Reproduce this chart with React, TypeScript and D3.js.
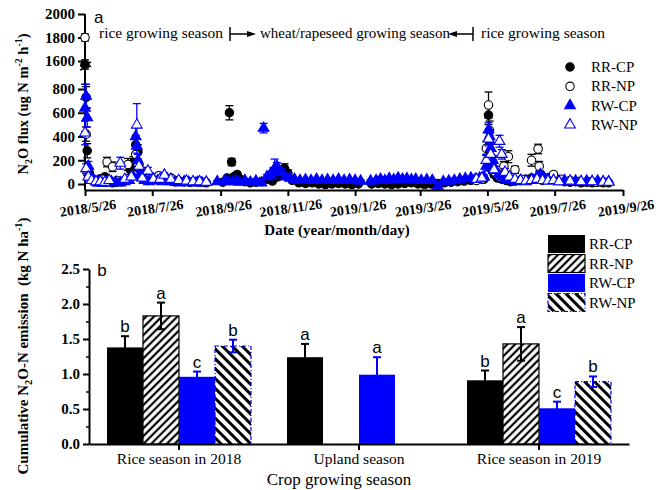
import React, { useEffect, useRef } from "react";
import * as d3 from "d3";

const dateTicks = ["2018/5/26", "2018/7/26", "2018/9/26", "2018/11/26", "2019/1/26", "2019/3/26", "2019/5/26", "2019/7/26", "2019/9/26"];
const fluxTicksLow = [0, 200, 400, 600, 800];
const fluxTicksHigh = [1600, 1800, 2000];

// [days after 2018/5/26, N2O flux, SE]
const rrCP = [
  [0, 1570, 40], [1, 730, 90], [2, 280, 60], [4, 90, 30], [7, 40, 15], [10, 20, 10], [14, 45, 15], [18, 60, 20], [21, 30, 10], [25, 10, 8],
  [29, 15, 8], [33, 20, 10], [37, 30, 10], [41, 120, 40], [44, 180, 50], [46, 330, 80], [48, 270, 60], [50, 120, 40], [53, 40, 15], [57, 30, 10],
  [61, 40, 15], [65, 35, 10], [69, 50, 20], [73, 40, 10], [77, 30, 10], [81, 20, 8], [85, 25, 8], [90, 20, 8], [95, 15, 8], [100, 20, 8],
  [105, 15, 8], [110, 10, 8],
  [125, 15, 8], [129, 50, 15], [131, 600, 60], [133, 185, 30], [135, 60, 20], [138, 80, 20], [141, 40, 15], [145, 20, 10], [150, 10, 8], [155, 15, 8],
  [160, 20, 10], [165, 40, 15], [170, 25, 10], [175, 60, 20], [178, 100, 30], [181, 130, 40], [184, 90, 30], [188, 30, 10], [194, 10, 8], [200, 5, 8],
  [206, 10, 8], [212, 0, 8], [218, -5, 8], [224, 0, 8], [230, 5, 8], [236, 0, 8], [242, -5, 8], [248, 0, 8], [260, 0, 8], [266, 5, 8],
  [272, 0, 8], [278, -5, 8], [284, 0, 8], [290, 5, 8], [296, 10, 8], [302, 0, 8], [308, -5, 8], [314, 0, 8], [320, 5, 8], [326, 10, 8],
  [332, 15, 8], [338, 20, 8], [344, 25, 8], [350, 30, 10],
  [352, 40, 10], [355, 30, 10], [358, 50, 15], [362, 40, 10], [365, 200, 50], [366, 580, 80], [367, 350, 60], [369, 120, 30], [371, 80, 20], [374, 50, 15],
  [378, 40, 10], [382, 30, 10], [386, 20, 8], [390, 25, 8], [395, 30, 10], [400, 40, 10], [405, 50, 15], [410, 40, 10], [415, 30, 10], [420, 40, 10],
  [425, 70, 15], [430, 30, 10], [435, 20, 8], [440, 15, 8], [445, 20, 8], [450, 10, 8], [455, 15, 8], [460, 10, 8], [465, 15, 8], [470, 10, 8], [475, 10, 8],
];

const rrNP = [
  [0, 1800, 30], [1, 420, 60], [2, 100, 30], [4, 40, 15], [8, 20, 10], [12, 30, 10], [16, 40, 15], [20, 185, 40], [25, 145, 40], [29, 30, 10],
  [33, 20, 10], [39, 165, 50], [44, 80, 25], [46, 250, 80], [48, 150, 40], [52, 60, 20], [57, 30, 10], [62, 50, 15], [67, 70, 20], [72, 40, 10],
  [78, 50, 15], [84, 30, 10], [90, 20, 8], [96, 15, 8], [102, 20, 8], [108, 15, 8],
  [355, 30, 10], [360, 40, 10], [364, 300, 60], [366, 665, 110], [367, 450, 80], [369, 200, 40], [372, 100, 30], [376, 60, 20], [380, 150, 40], [384, 230, 50],
  [390, 120, 30], [396, 40, 15], [402, 30, 10], [405, 200, 50], [411, 295, 40], [412, 150, 40], [418, 50, 15], [425, 80, 20], [432, 40, 10], [440, 30, 10],
  [448, 20, 8], [456, 20, 8], [464, 15, 8], [472, 15, 8],
];

const rwCP = [
  [0, 640, 200], [1, 740, 100], [2, 560, 80], [3, 150, 40], [5, 60, 20], [8, 30, 10], [12, 10, 8], [16, 5, 8], [20, 10, 8], [24, 20, 10],
  [28, 15, 8], [32, 10, 8], [36, 20, 10], [40, 30, 10], [44, 60, 20], [46, 400, 80], [47, 320, 60], [48, 200, 50], [50, 80, 20], [54, 30, 10],
  [58, 20, 8], [62, 40, 15], [66, 30, 10], [70, 20, 8], [74, 30, 10], [78, 20, 8], [82, 15, 8], [86, 10, 8], [90, 20, 8], [94, 15, 8],
  [98, 10, 8], [102, 15, 8], [106, 10, 8], [110, 15, 8], [120, 20, 10],
  [127, 30, 10], [130, 20, 8], [134, 20, 8], [137, 25, 10], [140, 15, 8], [145, 30, 10], [150, 15, 8], [155, 25, 10], [160, 10, 8], [162, 470, 40],
  [165, 60, 20], [168, 80, 25], [171, 110, 30], [172, 130, 80], [174, 150, 30], [178, 100, 30], [182, 60, 20], [186, 50, 15], [190, 40, 10], [195, 30, 10],
  [200, 35, 10], [205, 30, 10], [210, 40, 10], [215, 30, 10], [220, 35, 10], [225, 30, 10], [230, 40, 10], [235, 30, 10], [240, 35, 10], [245, 30, 10],
  [250, 25, 10], [259, 25, 10], [264, 30, 10], [268, 40, 10], [272, 30, 10], [276, 45, 10], [280, 35, 10], [284, 50, 10], [288, 40, 10], [292, 45, 10],
  [296, 35, 10], [300, 40, 10], [305, 30, 10], [310, 35, 10], [315, 30, 10], [320, -20, 10], [325, 20, 10], [330, 25, 10], [335, 30, 10], [340, 40, 10],
  [345, 45, 10], [350, 50, 10],
  [354, 40, 10], [358, 50, 15], [362, 60, 15], [364, 150, 40], [366, 455, 60], [367, 400, 60], [368, 300, 50], [370, 200, 40], [372, 120, 30], [375, 80, 20],
  [378, 60, 15], [382, 40, 10], [386, 30, 10], [390, 20, 8], [395, 30, 10], [400, 20, 8], [405, 40, 10], [410, 60, 15], [413, 80, 20], [416, 60, 15],
  [420, 40, 10], [425, 30, 10], [430, 20, 8], [435, 30, 10], [440, 20, 8], [445, 25, 8], [450, 20, 8], [455, 25, 8], [460, 20, 8], [465, 25, 8],
  [470, 20, 8], [475, 20, 8],
];

const rwNP = [
  [0, 430, 100], [1, 130, 40], [3, 60, 20], [6, 30, 10], [10, 20, 8], [14, 20, 8], [18, 15, 8], [22, 30, 10], [32, 175, 50], [36, 40, 15],
  [42, 60, 20], [47, 497, 180], [49, 150, 40], [52, 50, 15], [57, 110, 30], [62, 40, 15], [68, 40, 10], [72, 75, 20], [78, 40, 10], [85, 30, 10],
  [92, 25, 8], [98, 20, 8], [104, 20, 8], [110, 15, 8],
  [355, 40, 10], [360, 50, 15], [364, 200, 50], [366, 380, 60], [368, 250, 50], [371, 120, 30], [376, 360, 50], [378, 250, 40], [381, 100, 30], [385, 60, 15],
  [390, 40, 10], [395, 30, 10], [400, 25, 8], [405, 30, 10], [410, 40, 10], [415, 30, 10], [420, 25, 8], [425, 30, 10], [430, 20, 8], [440, 25, 8],
  [450, 20, 8], [460, 20, 8], [470, 15, 8], [475, 15, 8],
];

// cumulative emission (kg N ha-1) per season
const seasons = ["Rice season in 2018", "Upland season", "Rice season in 2019"];
const treatments = ["RR-CP", "RR-NP", "RW-CP", "RW-NP"];
const rrCPMean = [1.38, 1.24, 0.91];
const rrCPSe = [0.16, 0.19, 0.14];
const rrCPSig = ["b", "a", "b"];
const rrNPMean = [1.83, null, 1.43];
const rrNPSe = [0.19, null, 0.24];
const rrNPSig = ["a", "", "a"];
const rwCPMean = [0.96, 0.99, 0.51];
const rwCPSe = [0.075, 0.25, 0.095];
const rwCPSig = ["c", "a", "c"];
const rwNPMean = [1.40, null, 0.89];
const rwNPSe = [0.09, null, 0.075];
const rwNPSig = ["b", "", "b"];
const barTicks = [0, 0.5, 1, 1.5, 2, 2.5];
const barMinor = [0.25, 0.75, 1.25, 1.75, 2.25];

const BLUE = "#0000ff";
const serif = "'Liberation Serif', 'Times New Roman', serif";
const sans = "'Liberation Sans', Arial, sans-serif";

function richLabel(sel: any, parts: any[], size: number) {
  let shift = 0;
  parts.forEach(([t, k]) => {
    const target = k === "sub" ? 4 : k === "sup" ? -6 : 0;
    sel.append("tspan").attr("dy", target - shift).attr("font-size", k ? size * 0.68 : size).text(t);
    shift = target;
  });
}

function drawFlux(svg: any) {
  const parse = d3.timeParse("%Y/%m/%d") as any;
  const start = parse(dateTicks[0]);
  const x = d3.scaleTime().domain([start, parse(dateTicks[dateTicks.length - 1])]).range([85, 623]);
  const yLow = d3.scaleLinear().domain([0, 800]).range([184, 89]);
  const yHigh = d3.scaleLinear().domain([1600, 2000]).range([61, 14]);
  const y = (v: number) => (v > 1200 ? yHigh(v) : yLow(v));
  const px = (d: number) => x(d3.timeDay.offset(start, d));

  const xAxis = svg.append("g").attr("transform", "translate(0,190)")
    .call(d3.axisBottom(x).tickValues(dateTicks.map(parse)).tickFormat((_: any, i: number) => dateTicks[i]).tickSize(6).tickSizeOuter(0));
  xAxis.select(".domain").attr("stroke-width", 2);
  xAxis.selectAll(".tick line").attr("stroke-width", 2);
  xAxis.selectAll(".tick text").attr("y", 13).attr("transform", "rotate(-8)")
    .attr("font-family", serif).attr("font-size", 14).attr("font-weight", "bold").attr("fill", "#000");

  [[yLow, fluxTicksLow], [yHigh, fluxTicksHigh]].forEach(([sc, tv]: any) => {
    const g = svg.append("g").attr("transform", "translate(85,0)")
      .call(d3.axisLeft(sc).tickValues(tv).tickFormat(d3.format("d")).tickSize(7));
    g.select(".domain").remove();
    g.selectAll(".tick line").attr("stroke-width", 2);
    g.selectAll(".tick text").attr("x", -10)
      .attr("font-family", serif).attr("font-size", 15).attr("font-weight", "bold").attr("fill", "#000");
  });
  svg.append("line").attr("x1", 85).attr("x2", 85).attr("y1", 14).attr("y2", 190).attr("stroke", "#000").attr("stroke-width", 2);
  // axis break
  [0, 4].forEach((o) => {
    svg.append("line").attr("x1", 80).attr("x2", 91).attr("y1", 66 + o).attr("y2", 62 + o).attr("stroke", "#000").attr("stroke-width", 1.5);
  });

  const series = [
    { data: rrCP, color: "#000", circle: true, filled: true, label: "RR-CP" },
    { data: rrNP, color: "#000", circle: true, filled: false, label: "RR-NP" },
    { data: rwCP, color: BLUE, circle: false, filled: true, label: "RW-CP" },
    { data: rwNP, color: BLUE, circle: false, filled: false, label: "RW-NP" },
  ];
  const sym = (c: boolean) => d3.symbol().type(c ? d3.symbolCircle : d3.symbolTriangle).size(c ? 56 : 50);

  series.forEach((s) => {
    const g = svg.append("g");
    const eb = g.selectAll("g.eb").data(s.data).join("g").attr("stroke", s.color).attr("stroke-width", 1.3);
    eb.append("line").attr("x1", (d: any) => px(d[0])).attr("x2", (d: any) => px(d[0]))
      .attr("y1", (d: any) => y(d[1] - d[2])).attr("y2", (d: any) => y(d[1] + d[2]));
    eb.append("line").attr("x1", (d: any) => px(d[0]) - 4).attr("x2", (d: any) => px(d[0]) + 4)
      .attr("y1", (d: any) => y(d[1] + d[2])).attr("y2", (d: any) => y(d[1] + d[2]));
    eb.append("line").attr("x1", (d: any) => px(d[0]) - 4).attr("x2", (d: any) => px(d[0]) + 4)
      .attr("y1", (d: any) => y(d[1] - d[2])).attr("y2", (d: any) => y(d[1] - d[2]));
    g.selectAll("path.m").data(s.data).join("path")
      .attr("transform", (d: any) => `translate(${px(d[0])},${y(d[1])})`)
      .attr("d", sym(s.circle))
      .attr("fill", s.filled ? s.color : "#fff").attr("stroke", s.color).attr("stroke-width", 1.1);
  });

  // legend
  series.forEach((s, i) => {
    const ly = 67 + i * 19.3;
    svg.append("path").attr("transform", `translate(570,${ly})`).attr("d", sym(s.circle))
      .attr("fill", s.filled ? s.color : "#fff").attr("stroke", s.color).attr("stroke-width", 1.1);
    svg.append("text").attr("x", 591).attr("y", ly + 5).attr("font-family", serif).attr("font-size", 15).text(s.label);
  });

  // annotations
  svg.append("text").attr("x", 94).attr("y", 23).attr("font-family", sans).attr("font-size", 17).text("a");
  const ann = svg.append("g").attr("font-family", serif).attr("font-size", 15.5);
  ann.append("text").attr("x", 99).attr("y", 38).text("rice growing season");
  ann.append("text").attr("x", 260).attr("y", 38).attr("font-size", 15).text("wheat/rapeseed growing season");
  ann.append("text").attr("x", 481).attr("y", 38).text("rice growing season");
  const ar = svg.append("g").attr("stroke", "#000").attr("stroke-width", 1.5);
  ar.append("line").attr("x1", 230).attr("x2", 230).attr("y1", 27).attr("y2", 41);
  ar.append("line").attr("x1", 230).attr("x2", 250).attr("y1", 34).attr("y2", 34);
  ar.append("line").attr("x1", 473).attr("x2", 473).attr("y1", 27).attr("y2", 41);
  ar.append("line").attr("x1", 455).attr("x2", 473).attr("y1", 34).attr("y2", 34);
  svg.append("path").attr("d", "M256,34 L247,31 L247,37 Z").attr("fill", "#000");
  svg.append("path").attr("d", "M448,34 L457,31 L457,37 Z").attr("fill", "#000");

  const yl = svg.append("text").attr("transform", "translate(28,104) rotate(-90)").attr("text-anchor", "middle")
    .attr("font-family", serif).attr("font-weight", "bold").attr("font-size", 14.5).style("white-space", "pre");
  richLabel(yl, [["N", ""], ["2", "sub"], ["O flux (ug N m", ""], ["-2", "sup"], [" h", ""], ["-1", "sup"], [")", ""]], 14.5);

  svg.append("text").attr("x", 337).attr("y", 235).attr("text-anchor", "middle")
    .attr("font-family", serif).attr("font-weight", "bold").attr("font-size", 15).text("Date (year/month/day)");
}

function drawBars(svg: any) {
  const xb = d3.scaleBand().domain(seasons).range([89, 629]);
  const xs = d3.scaleBand().domain(treatments).range([-72, 72]);
  const yb = d3.scaleLinear().domain([0, 2.5]).range([444, 269]);

  const defs = svg.append("defs");
  const hatch = (id: string, w: number, sw: number, rot: number) => {
    const p = defs.append("pattern").attr("id", id).attr("patternUnits", "userSpaceOnUse")
      .attr("width", w).attr("height", w).attr("patternTransform", `rotate(${rot})`);
    p.append("rect").attr("width", w).attr("height", w).attr("fill", "#fff");
    p.append("line").attr("x1", w / 2).attr("x2", w / 2).attr("y1", 0).attr("y2", w).attr("stroke", "#000").attr("stroke-width", sw);
  };
  hatch("hatchRR", 5.5, 2.2, 45);
  hatch("hatchRW", 7, 3, -45);

  const styles = [
    { mean: rrCPMean, se: rrCPSe, sig: rrCPSig, fill: "#000", stroke: "none", dash: null, ec: "#000" },
    { mean: rrNPMean, se: rrNPSe, sig: rrNPSig, fill: "url(#hatchRR)", stroke: "#000", dash: null, ec: "#000" },
    { mean: rwCPMean, se: rwCPSe, sig: rwCPSig, fill: BLUE, stroke: "none", dash: null, ec: BLUE },
    { mean: rwNPMean, se: rwNPSe, sig: rwNPSig, fill: "url(#hatchRW)", stroke: BLUE, dash: "4,2,1,2", ec: BLUE },
  ];

  treatments.forEach((t, ti) => {
    const st = styles[ti];
    const rows = seasons.map((s, i) => ({ s, m: st.mean[i], e: st.se[i], l: st.sig[i] })).filter((d) => d.m != null);
    const cx = (d: any) => (xb(d.s) as number) + xb.bandwidth() / 2 + (xs(t) as number);
    const w = xs.bandwidth();
    const g = svg.append("g");
    g.selectAll("rect").data(rows).join("rect")
      .attr("x", (d: any) => cx(d)).attr("y", (d: any) => yb(d.m)).attr("width", w).attr("height", (d: any) => yb(0) - yb(d.m))
      .attr("fill", st.fill).attr("stroke", st.stroke).attr("stroke-width", 1.2).attr("stroke-dasharray", st.dash);
    const eb = g.selectAll("g.e").data(rows).join("g").attr("stroke", st.ec).attr("stroke-width", 2);
    eb.append("line").attr("x1", (d: any) => cx(d) + w / 2).attr("x2", (d: any) => cx(d) + w / 2)
      .attr("y1", (d: any) => yb(d.m - d.e)).attr("y2", (d: any) => yb(d.m + d.e));
    [1, -1].forEach((sgn) => {
      eb.append("line").attr("x1", (d: any) => cx(d) + w / 2 - 4).attr("x2", (d: any) => cx(d) + w / 2 + 4)
        .attr("y1", (d: any) => yb(d.m + sgn * d.e)).attr("y2", (d: any) => yb(d.m + sgn * d.e));
    });
    g.selectAll("text").data(rows).join("text")
      .attr("x", (d: any) => cx(d) + w / 2).attr("y", (d: any) => yb(d.m + d.e) - 4).attr("text-anchor", "middle")
      .attr("font-family", sans).attr("font-size", 17).text((d: any) => d.l);
  });

  const xAxis = svg.append("g").attr("transform", "translate(0,444)")
    .call(d3.axisBottom(xb).tickSize(6).tickSizeOuter(0));
  xAxis.select(".domain").attr("stroke-width", 2);
  xAxis.selectAll(".tick line").attr("stroke-width", 2);
  xAxis.selectAll(".tick text").attr("font-family", serif).attr("font-size", 15.5).attr("fill", "#000");

  const yAxis = svg.append("g").attr("transform", "translate(89,0)")
    .call(d3.axisLeft(yb).tickValues(barTicks).tickFormat(d3.format(".1f")).tickSize(6).tickSizeOuter(0));
  yAxis.select(".domain").attr("stroke-width", 2);
  yAxis.selectAll(".tick line").attr("stroke-width", 2);
  yAxis.selectAll(".tick text").attr("x", -9)
    .attr("font-family", serif).attr("font-size", 15).attr("font-weight", "bold").attr("fill", "#000");
  const yMinor = svg.append("g").attr("transform", "translate(89,0)")
    .call(d3.axisLeft(yb).tickValues(barMinor).tickFormat(() => "").tickSize(3));
  yMinor.select(".domain").remove();
  yMinor.selectAll(".tick line").attr("stroke-width", 1.5);

  svg.append("text").attr("x", 102).attr("y", 276).attr("text-anchor", "middle").attr("font-family", sans).attr("font-size", 17).text("b");

  svg.append("text").attr("x", 339).attr("y", 485).attr("text-anchor", "middle")
    .attr("font-family", serif).attr("font-size", 17).text("Crop growing season");

  const yl = svg.append("text").attr("transform", "translate(28,346) rotate(-90)").attr("text-anchor", "middle")
    .attr("font-family", serif).attr("font-weight", "bold").attr("font-size", 15).style("white-space", "pre");
  richLabel(yl, [["Cumulative N", ""], ["2", "sub"], ["O-N emission  (kg N ha", ""], ["-1", "sup"], [")", ""]], 15);

  // legend
  treatments.forEach((t, i) => {
    const st = styles[i];
    const ly = 235 + i * 19.5;
    svg.append("rect").attr("x", 548).attr("y", ly).attr("width", 37).attr("height", 18)
      .attr("fill", st.fill).attr("stroke", st.stroke).attr("stroke-width", 1.2).attr("stroke-dasharray", st.dash);
    svg.append("text").attr("x", 589).attr("y", ly + 14).attr("font-family", serif).attr("font-size", 15).text(t);
  });
}

export default function App() {
  const ref = useRef<SVGSVGElement>(null);
  useEffect(() => {
    document.body.style.margin = "0";
    const svg = d3.select(ref.current);
    svg.selectAll("*").remove();
    drawFlux(svg);
    drawBars(svg);
  }, []);
  return <svg ref={ref} width={668} height={490} style={{ display: "block", background: "#fff" }} />;
}
